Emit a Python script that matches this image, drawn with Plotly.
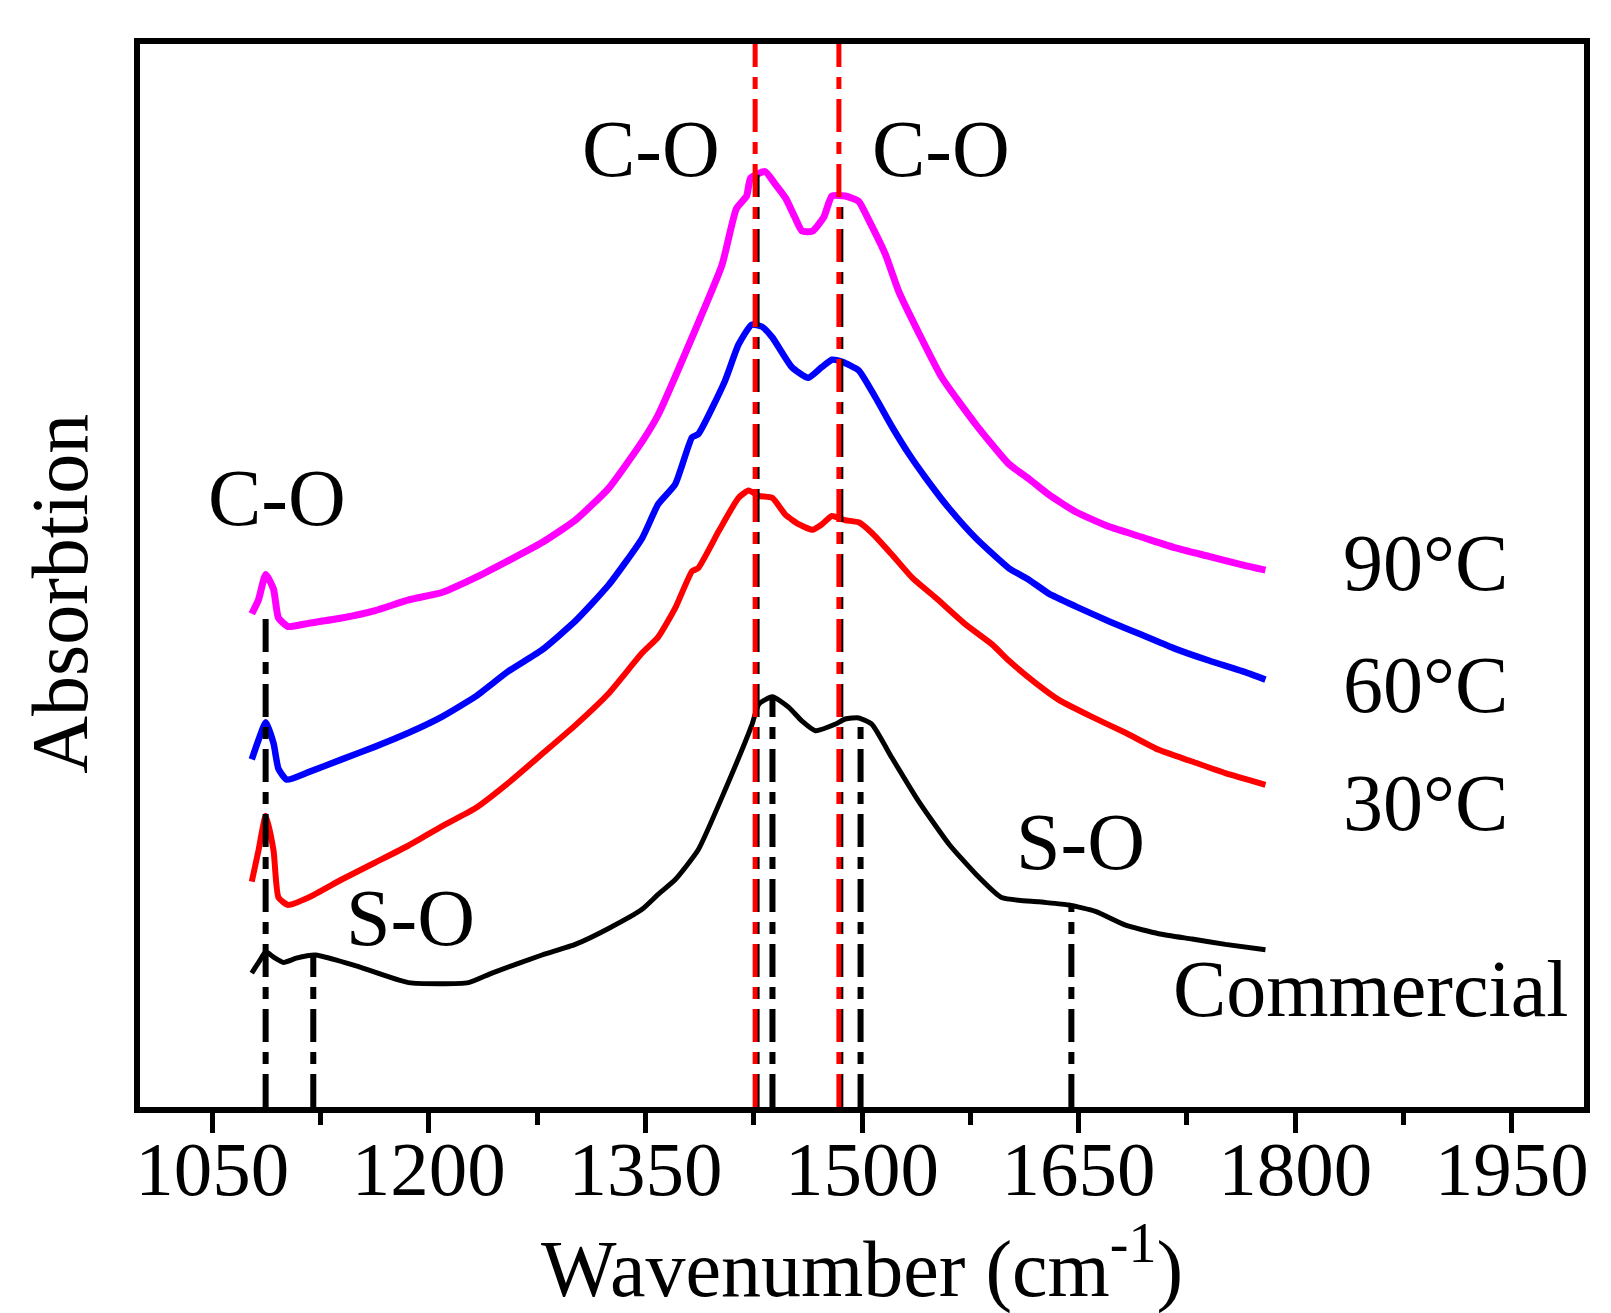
import plotly.graph_objects as go

# wavenumber (cm-1) / absorbance (a.u.)
wn_90 = [1077.4, 1082.0, 1087.1, 1092.5, 1095.9, 1102.7, 1116.7, 1139.7, 1162.9, 1186.0,
         1209.0, 1232.2, 1255.2, 1278.4, 1301.4, 1324.5, 1347.7, 1358.8, 1382.3, 1403.0,
         1413.0, 1420.1, 1422.9, 1432.9, 1440.0, 1447.1, 1453.5, 1458.5, 1465.7, 1473.5,
         1479.2, 1488.4, 1497.7, 1504.8, 1516.2, 1525.5, 1539.0, 1555.4, 1578.9, 1601.6,
         1615.5, 1629.4, 1647.9, 1670.9, 1694.1, 1717.1, 1740.2, 1763.3, 1779.4]
abs_90 = [0.464, 0.477, 0.501, 0.487, 0.460, 0.452, 0.455, 0.460, 0.467, 0.477,
          0.484, 0.498, 0.514, 0.531, 0.552, 0.582, 0.626, 0.651, 0.724, 0.792,
          0.845, 0.857, 0.874, 0.880, 0.868, 0.855, 0.837, 0.824, 0.824, 0.837,
          0.857, 0.857, 0.852, 0.834, 0.802, 0.767, 0.729, 0.686, 0.642, 0.605,
          0.591, 0.576, 0.560, 0.546, 0.536, 0.526, 0.518, 0.510, 0.505]

wn_60 = [1077.4, 1082.0, 1087.1, 1092.5, 1095.9, 1101.7, 1116.7, 1139.7, 1162.9, 1186.0,
         1209.0, 1232.2, 1255.2, 1278.4, 1301.4, 1324.5, 1347.7, 1358.8, 1370.7, 1382.3,
         1386.6, 1405.1, 1414.4, 1423.6, 1430.8, 1437.9, 1451.4, 1462.8, 1472.1, 1479.2,
         1486.3, 1497.7, 1509.1, 1521.2, 1532.6, 1544.0, 1560.4, 1578.9, 1601.6, 1615.5,
         1629.4, 1647.9, 1670.9, 1694.1, 1717.1, 1740.2, 1763.3, 1779.4]
abs_60 = [0.327, 0.345, 0.362, 0.342, 0.318, 0.308, 0.315, 0.327, 0.339, 0.352,
          0.367, 0.386, 0.410, 0.430, 0.457, 0.491, 0.535, 0.567, 0.586, 0.630,
          0.633, 0.683, 0.717, 0.736, 0.734, 0.724, 0.696, 0.686, 0.696, 0.703,
          0.701, 0.693, 0.668, 0.639, 0.614, 0.592, 0.563, 0.535, 0.507, 0.496,
          0.483, 0.471, 0.457, 0.444, 0.431, 0.420, 0.410, 0.402]

wn_30 = [1077.4, 1082.0, 1087.1, 1092.5, 1095.9, 1102.7, 1116.7, 1139.7, 1162.9, 1186.0,
         1209.0, 1232.2, 1255.2, 1278.4, 1301.4, 1324.5, 1347.7, 1358.8, 1370.9, 1382.3,
         1386.6, 1400.9, 1414.4, 1421.5, 1428.6, 1437.9, 1447.1, 1456.4, 1465.7, 1472.1,
         1479.2, 1488.4, 1497.7, 1506.9, 1520.5, 1534.7, 1551.1, 1571.7, 1590.3, 1601.6,
         1620.1, 1636.3, 1659.3, 1682.5, 1705.5, 1728.6, 1751.7, 1779.4]
abs_30 = [0.212, 0.241, 0.274, 0.241, 0.197, 0.190, 0.197, 0.214, 0.230, 0.246,
          0.264, 0.281, 0.305, 0.332, 0.359, 0.389, 0.427, 0.442, 0.470, 0.504,
          0.507, 0.542, 0.573, 0.580, 0.575, 0.573, 0.557, 0.548, 0.543, 0.548,
          0.556, 0.552, 0.550, 0.540, 0.520, 0.498, 0.479, 0.454, 0.435, 0.420,
          0.399, 0.383, 0.367, 0.352, 0.336, 0.325, 0.314, 0.303]

wn_com = [1077.4, 1082.6, 1087.1, 1092.5, 1099.4, 1108.2, 1121.3, 1136.7, 1151.4, 1186.0,
          1227.5, 1243.7, 1278.4, 1301.4, 1324.5, 1347.7, 1358.8, 1370.7, 1386.6, 1405.1,
          1423.6, 1428.6, 1437.9, 1449.3, 1458.5, 1467.8, 1481.3, 1488.4, 1497.7, 1506.9,
          1520.5, 1539.0, 1560.4, 1578.9, 1596.7, 1622.4, 1643.2, 1661.7, 1682.5, 1705.5,
          1728.6, 1751.7, 1779.4]
abs_com = [0.126, 0.137, 0.146, 0.141, 0.136, 0.140, 0.143, 0.138, 0.132, 0.117,
           0.117, 0.126, 0.143, 0.153, 0.168, 0.186, 0.200, 0.214, 0.242, 0.298,
           0.359, 0.379, 0.386, 0.376, 0.363, 0.354, 0.360, 0.365, 0.366, 0.360,
           0.329, 0.288, 0.247, 0.219, 0.197, 0.193, 0.190, 0.184, 0.171, 0.163,
           0.158, 0.153, 0.148]

# marker lines
red_x = [1426, 1484]
black_x = [1087, 1120, 1427, 1485, 1438, 1499, 1645]
black_top = [0.461, 0.143, 0.877, 0.855, 0.386, 0.366, 0.190]

# band labels
band_text = ["C-O", "C-O", "C-O", "S-O", "S-O"]
band_x = [1095, 1354, 1555, 1187, 1651]
band_y = [0.573, 0.901, 0.901, 0.178, 0.249]

series_names = ["90°C", "60°C", "30°C", "Commercial"]
name_x = [1890, 1890, 1890, 1852]
name_y = [0.512, 0.397, 0.286, 0.111]

FONT = "Times New Roman, Liberation Serif, serif"

fig = go.Figure()

curves = [(wn_com, abs_com, "black", 5), (wn_30, abs_30, "#ff0000", 6),
          (wn_60, abs_60, "#0000ff", 6.5), (wn_90, abs_90, "#ff00ff", 7)]
for xs, ys, col, w in curves:
    fig.add_trace(go.Scatter(x=xs, y=ys, mode="lines",
                             line=dict(color=col, width=w, shape="spline", smoothing=0.5),
                             showlegend=False))

for x, top in zip(black_x, black_top):
    fig.add_trace(go.Scatter(x=[x, x], y=[0, top], mode="lines",
                             line=dict(color="black", width=6, dash="33px,10px,12px,10px"),
                             showlegend=False))

for x in red_x:
    fig.add_trace(go.Scatter(x=[x, x], y=[0, 1], mode="lines",
                             line=dict(color="#ff0000", width=5, dash="33px,10px,12px,10px"),
                             showlegend=False))

for t, x, y in zip(band_text, band_x, band_y):
    fig.add_annotation(x=x, y=y, text=t, showarrow=False,
                       font=dict(family=FONT, size=80, color="black"))
for t, x, y in zip(series_names, name_x, name_y):
    fig.add_annotation(x=x, y=y, text=t, showarrow=False,
                       font=dict(family=FONT, size=80, color="black"))

fig.add_annotation(xref="paper", yref="paper", x=-0.056, y=0.483, text="Absorbtion",
                   xanchor="center", yanchor="middle", textangle=-90, showarrow=False,
                   font=dict(family=FONT, size=80, color="black"))

fig.update_xaxes(range=[1000, 2000], tick0=1050, dtick=150,
                 ticks="outside", ticklen=20, tickwidth=5, tickcolor="black",
                 minor=dict(dtick=75, tick0=1050, ticks="outside", ticklen=12,
                            tickwidth=5, tickcolor="black"),
                 showline=True, linewidth=6, linecolor="black", mirror=True,
                 showgrid=False, zeroline=False, ticklabelstandoff=-30,
                 tickfont=dict(family=FONT, size=77, color="black"),
                 title=dict(text="Wavenumber (cm<sup>-1</sup>)",
                            font=dict(family=FONT, size=80, color="black"), standoff=25))
fig.update_yaxes(range=[0, 1], showticklabels=False, ticks="",
                 showline=True, linewidth=6, linecolor="black", mirror=True,
                 showgrid=False, zeroline=False)

fig.update_layout(width=1611, height=1313, plot_bgcolor="white", paper_bgcolor="white",
                  margin=dict(l=132, r=35, t=36, b=214))

fig.write_html("out.html")
